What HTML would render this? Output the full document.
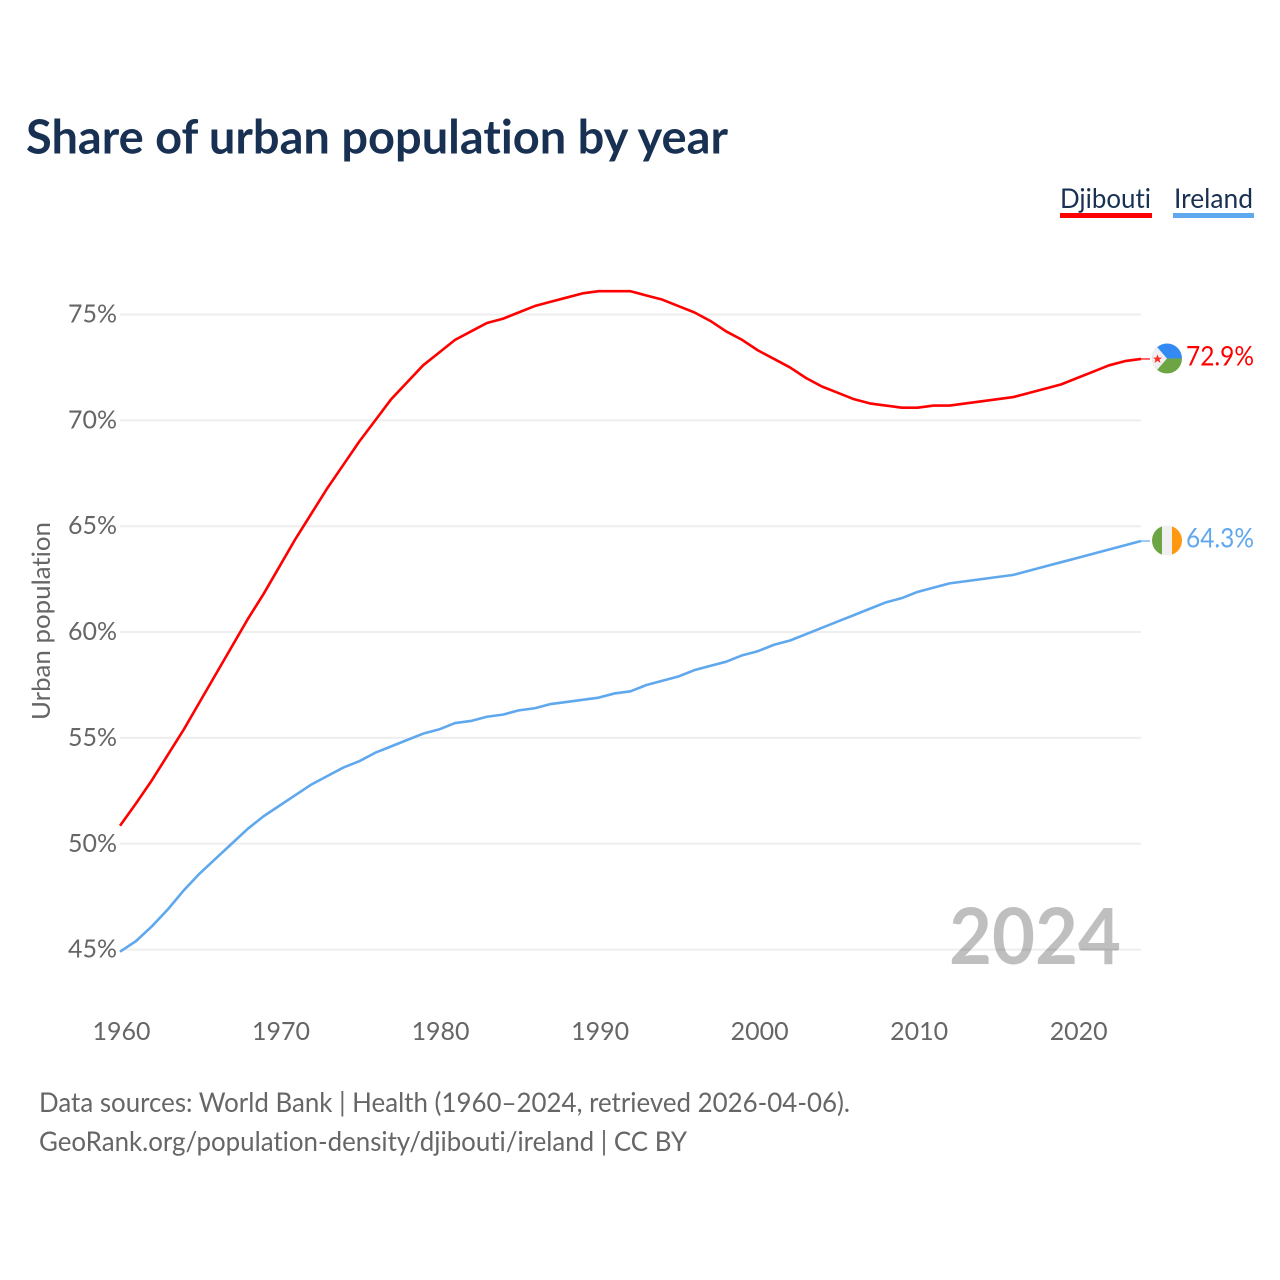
<!DOCTYPE html>
<html lang="en">
<head>
<meta charset="utf-8">
<title>Share of urban population by year</title>
<style>
  html, body { margin: 0; padding: 0; background: #fff; }
  svg { display: block; font-family: "Lato", "Carlito", "Liberation Sans", sans-serif; font-variant-ligatures: none; }
</style>
</head>
<body>
<svg id="chart" xmlns="http://www.w3.org/2000/svg" width="1280" height="1280" viewBox="0 0 1280 1280">
  <rect x="0" y="0" width="1280" height="1280" fill="#fff"/>
  <text x="26" y="153.5" font-size="47" font-weight="700" fill="#183153" textLength="702" lengthAdjust="spacingAndGlyphs">Share of urban population by year</text>

  <g>
    <text x="1060" y="208" font-size="27" fill="#183153" textLength="91" lengthAdjust="spacingAndGlyphs">Djibouti</text>
    <rect x="1060" y="213" width="92" height="5" fill="#ff0000"/>
  </g>
  <g>
    <text x="1174" y="208" font-size="27" fill="#183153" textLength="79" lengthAdjust="spacingAndGlyphs">Ireland</text>
    <rect x="1173" y="213" width="81" height="5" fill="#5fa8ee"/>
  </g>

  <g id="grid"></g>
  <g id="yticks"></g>
  <g id="xticks"></g>
  <text transform="translate(50 621) rotate(-90)" text-anchor="middle" font-size="25" fill="#666" textLength="198" lengthAdjust="spacingAndGlyphs">Urban population</text>

  <text x="1121" y="964" text-anchor="end" font-size="78" font-weight="700" fill="#000" fill-opacity="0.25" textLength="172" lengthAdjust="spacingAndGlyphs">2024</text>

  <g id="series"></g>

  <defs>
    <clipPath id="flag-clip"><circle cx="0" cy="0" r="15"/></clipPath>
  </defs>

  <g id="flag-djibouti">
    <g clip-path="url(#flag-clip)">
      <rect x="-15" y="-15" width="30" height="15" fill="#338af3"/>
      <rect x="-15" y="0" width="30" height="15" fill="#6da544"/>
      <polygon points="-15,-15 -13,-15 0,0 -13,15 -15,15" fill="#f0f0f0"/>
      <polygon points="-9.5,-4 -8.2,-0.8 -5,-0.8 -7.5,1.2 -6.5,4.4 -9.5,2.4 -12.5,4.4 -11.5,1.2 -14,-0.8 -10.8,-0.8" fill="#ff2a2a"/>
    </g>
  </g>
  <g id="flag-ireland">
    <g clip-path="url(#flag-clip)">
      <rect x="-15" y="-15" width="10" height="30" fill="#6da544"/>
      <rect x="-5" y="-15" width="10" height="30" fill="#f0f0f0"/>
      <rect x="5" y="-15" width="10" height="30" fill="#ff9811"/>
    </g>
  </g>

  <text id="value-djibouti" x="1186" font-size="27" fill="#ff0000" textLength="68" lengthAdjust="spacingAndGlyphs"></text>
  <text id="value-ireland" x="1186" font-size="27" fill="#5fa8ee" textLength="68" lengthAdjust="spacingAndGlyphs"></text>

  <text x="39" y="1112" font-size="27" fill="#666" textLength="811" lengthAdjust="spacingAndGlyphs">Data sources: World Bank | Health (1960–2024, retrieved 2026-04-06).</text>
  <text x="39" y="1151" font-size="27" fill="#666" textLength="648" lengthAdjust="spacingAndGlyphs">GeoRank.org/population-density/djibouti/ireland | CC BY</text>
</svg>
<script>
const startYear = 1960;
const endYear = 2024;
const yTickValues = [45, 50, 55, 60, 65, 70, 75];
const xTickValues = [1960, 1970, 1980, 1990, 2000, 2010, 2020];
const djiboutiValues = [50.85, 51.9, 53.0, 54.2, 55.4, 56.7, 58.0, 59.3, 60.6, 61.8, 63.1, 64.4, 65.6, 66.8, 67.9, 69.0, 70.0, 71.0, 71.8, 72.6, 73.2, 73.8, 74.2, 74.6, 74.8, 75.1, 75.4, 75.6, 75.8, 76.0, 76.1, 76.1, 76.1, 75.9, 75.7, 75.4, 75.1, 74.7, 74.2, 73.8, 73.3, 72.9, 72.5, 72.0, 71.6, 71.3, 71.0, 70.8, 70.7, 70.6, 70.6, 70.7, 70.7, 70.8, 70.9, 71.0, 71.1, 71.3, 71.5, 71.7, 72.0, 72.3, 72.6, 72.8, 72.9];
const irelandValues = [44.9, 45.4, 46.1, 46.9, 47.8, 48.6, 49.3, 50.0, 50.7, 51.3, 51.8, 52.3, 52.8, 53.2, 53.6, 53.9, 54.3, 54.6, 54.9, 55.2, 55.4, 55.7, 55.8, 56.0, 56.1, 56.3, 56.4, 56.6, 56.7, 56.8, 56.9, 57.1, 57.2, 57.5, 57.7, 57.9, 58.2, 58.4, 58.6, 58.9, 59.1, 59.4, 59.6, 59.9, 60.2, 60.5, 60.8, 61.1, 61.4, 61.6, 61.9, 62.1, 62.3, 62.4, 62.5, 62.6, 62.7, 62.9, 63.1, 63.3, 63.5, 63.7, 63.9, 64.1, 64.3];

const NS = 'http://www.w3.org/2000/svg';
const plotLeft = 120;
const plotRight = 1141;
function xScale(year) {
  return plotLeft + (year - startYear) * (plotRight - plotLeft) / (endYear - startYear);
}
function yScale(value) {
  return 949.6 - (value - 45) * 21.17;
}

const gridGroup = document.getElementById('grid');
const yTickGroup = document.getElementById('yticks');
const xTickGroup = document.getElementById('xticks');
const seriesGroup = document.getElementById('series');

yTickValues.forEach(function (v) {
  const line = document.createElementNS(NS, 'line');
  
  
  line.setAttribute('x1', plotLeft);
  line.setAttribute('x2', plotRight);
  line.setAttribute('y1', yScale(v));
  line.setAttribute('y2', yScale(v));
  line.setAttribute('stroke', '#eeeeee');
  line.setAttribute('stroke-width', '2');
  gridGroup.appendChild(line);

  const label = document.createElementNS(NS, 'text');
  
  
  label.setAttribute('x', 117);
  label.setAttribute('y', yScale(v) + 8);
  label.setAttribute('text-anchor', 'end');
  label.setAttribute('font-size', '25');
  label.setAttribute('fill', '#666');
  label.setAttribute('textLength', '49');
  label.setAttribute('lengthAdjust', 'spacingAndGlyphs');
  label.textContent = v + '%';
  yTickGroup.appendChild(label);
});

xTickValues.forEach(function (year) {
  const label = document.createElementNS(NS, 'text');
  
  
  label.setAttribute('x', xScale(year) + 1.5);
  label.setAttribute('y', 1040);
  label.setAttribute('text-anchor', 'middle');
  label.setAttribute('font-size', '25');
  label.setAttribute('fill', '#666');
  label.setAttribute('textLength', '58');
  label.setAttribute('lengthAdjust', 'spacingAndGlyphs');
  label.textContent = year;
  xTickGroup.appendChild(label);
});

function drawLine(values, color) {
  const points = values.map(function (v, i) {
    return xScale(startYear + i).toFixed(2) + ',' + yScale(v).toFixed(2);
  }).join(' ');
  const line = document.createElementNS(NS, 'polyline');
  line.setAttribute('points', points);
  line.setAttribute('fill', 'none');
  line.setAttribute('stroke', color);
  line.setAttribute('stroke-width', '2.6');
  line.setAttribute('stroke-linejoin', 'round');
  seriesGroup.appendChild(line);
  return line;
}
function drawConnector(values, color) {
  const last = yScale(values[values.length - 1]);
  const connector = document.createElementNS(NS, 'line');
  connector.setAttribute('x1', plotRight);
  connector.setAttribute('x2', 1150);
  connector.setAttribute('y1', last);
  connector.setAttribute('y2', last);
  connector.setAttribute('stroke', color);
  connector.setAttribute('stroke-width', '1.2');
  seriesGroup.appendChild(connector);
  return connector;
}
function placeEnd(values, flagId, labelId) {
  const v = values[values.length - 1];
  document.getElementById(flagId).setAttribute('transform', 'translate(1167 ' + (yScale(v) - 0.5) + ')');
  const label = document.getElementById(labelId);
  label.setAttribute('y', yScale(v) + 6.5);
  label.textContent = v.toFixed(1) + '%';
}

const djiboutiLine = drawLine(djiboutiValues, '#ff0000');


const irelandLine = drawLine(irelandValues, '#5fa8ee');


const djiboutiConnector = drawConnector(djiboutiValues, '#ff0000');


const irelandConnector = drawConnector(irelandValues, '#5fa8ee');


placeEnd(djiboutiValues, 'flag-djibouti', 'value-djibouti');
placeEnd(irelandValues, 'flag-ireland', 'value-ireland');
</script>
</body>
</html>
